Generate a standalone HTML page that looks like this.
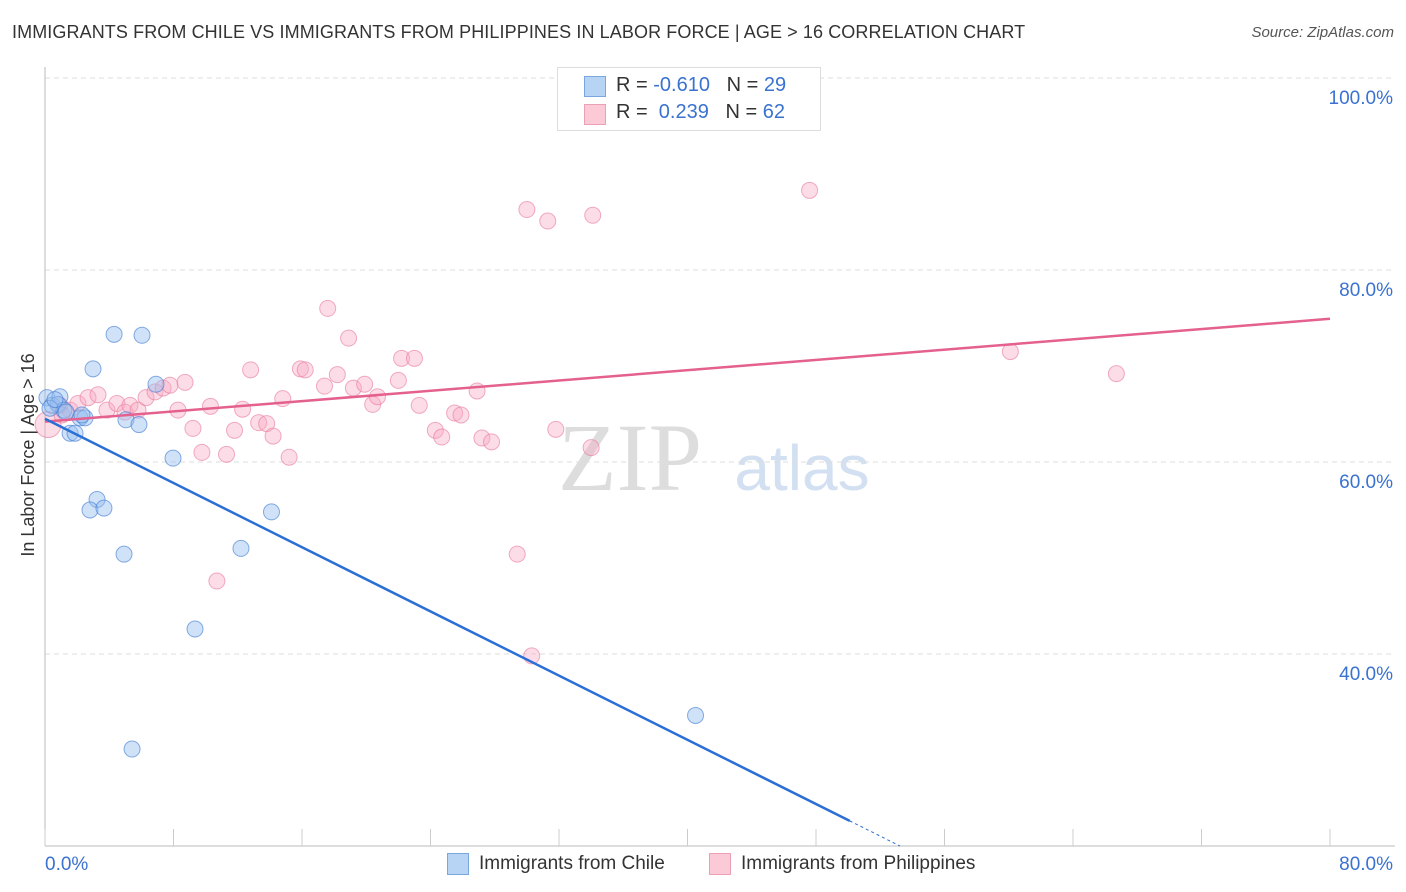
<!DOCTYPE html>
<html><head><meta charset="utf-8"><style>
body{margin:0;background:#fff;font-family:"Liberation Sans",sans-serif;}
#wrap{position:relative;width:1406px;height:892px;overflow:hidden;}
.t{position:absolute;white-space:nowrap;}
</style></head><body>
<div id="wrap">
<div class="t" style="left:12px;top:22px;font-size:18px;color:#333;letter-spacing:0.1px">IMMIGRANTS FROM CHILE VS IMMIGRANTS FROM PHILIPPINES IN LABOR FORCE | AGE &gt; 16 CORRELATION CHART</div>
<div class="t" style="right:12px;top:24px;font-size:15px;color:#555;font-style:italic">Source: ZipAtlas.com</div>
<svg id="svg" width="1406" height="892" style="position:absolute;left:0;top:0">
<text x="630" y="490" font-size="96" fill="#ddd" font-family="Liberation Serif" text-anchor="middle">ZIP</text>
<text x="802" y="490" font-size="64" fill="#d2e0f2" font-family="Liberation Sans" text-anchor="middle">atlas</text>
<text transform="translate(34,455) rotate(-90)" font-size="18" fill="#333" text-anchor="middle">In Labor Force | Age &gt; 16</text>
</svg>
<div style="position:absolute;left:557px;top:67px;width:262px;height:62px;border:1px solid #ddd;background:#fff">
<div style="position:absolute;left:26px;top:8px;width:20px;height:19px;background:#b8d4f5;border:1px solid #7aa7e0"></div>
<div class="t" style="left:58px;top:6px;font-size:20px;color:#333">R = <span style="color:#3a72d0">-0.610</span>&nbsp;&nbsp;&nbsp;N = <span style="color:#3a72d0">29</span></div>
<div style="position:absolute;left:26px;top:36px;width:20px;height:19px;background:#fcc9d6;border:1px solid #eba0b5"></div>
<div class="t" style="left:58px;top:33px;font-size:20px;color:#333">R = &nbsp;<span style="color:#3a72d0">0.239</span>&nbsp;&nbsp;&nbsp;N = <span style="color:#3a72d0">62</span></div>
</div>
<div style="position:absolute;left:447px;top:853px">
<div style="position:absolute;left:0;top:0;width:20px;height:20px;background:#b8d4f5;border:1px solid #7aa7e0"></div>
<div class="t" style="left:32px;top:0;font-size:19px;color:#333">Immigrants from Chile</div></div>
<div style="position:absolute;left:709px;top:853px">
<div style="position:absolute;left:0;top:0;width:20px;height:20px;background:#fcc9d6;border:1px solid #eba0b5"></div>
<div class="t" style="left:32px;top:0;font-size:19px;color:#333">Immigrants from Philippines</div></div>
</div>
<script>
const xTicks=[0,80];
const yTicks=[40,60,80,100];
const chileX=[0.12,0.44,0.93,0.81,1.18,1.56,1.87,2.18,2.49,2.99,3.24,2.80,3.67,4.30,4.92,5.04,5.85,6.04,6.91,7.97,9.34,5.42,12.2,14.1,40.5,0.31,1.31,2.30,0.62];
const chileY=[66.7,65.9,66.8,66.0,65.4,63.0,63.0,64.6,64.6,69.7,56.1,55.0,55.2,73.3,50.4,64.4,63.9,73.2,68.1,60.4,42.6,30.1,51.0,54.8,33.6,65.6,65.2,64.9,66.5];
const philX=[0.19,0.93,1.56,2.05,2.68,3.3,3.86,4.48,4.98,5.29,5.79,6.29,6.85,7.35,7.78,8.28,8.72,9.21,9.77,10.3,10.7,11.3,11.8,12.3,12.8,13.3,13.8,14.2,14.8,15.2,15.9,16.2,17.4,17.6,18.2,18.9,19.2,19.9,20.4,20.7,22.0,22.2,23.0,23.3,24.3,24.7,25.5,25.9,26.9,27.2,27.8,29.4,30.0,30.3,31.3,31.8,34.0,34.1,47.6,60.1,66.7,1.06];
const philY=[63.9,65.9,65.4,66.1,66.7,67.0,65.4,66.1,65.2,65.9,65.4,66.7,67.3,67.7,68.0,65.4,68.3,63.5,61.0,65.8,47.6,60.8,63.3,65.5,69.6,64.1,64.0,62.7,66.6,60.5,69.7,69.6,67.9,76.0,69.1,72.9,67.7,68.1,66.0,66.8,68.5,70.8,70.8,65.9,63.3,62.6,65.1,64.9,67.4,62.5,62.1,50.4,86.3,39.8,85.1,63.4,61.5,85.7,88.3,71.5,69.2,64.9];
const chileTrend=[64.5,-0.836];
const philTrend=[64.2,0.134];
const X0=45,X1=1330,Y0=846,YPX=9.6;
const sx=v=>X0+(v/80)*(X1-X0);
const sy=v=>Y0-(v-20)*YPX;
const svg=document.getElementById('svg');
const NS='http://www.w3.org/2000/svg';
function mk(tag,attrs){const e=document.createElementNS(NS,tag);for(const k in attrs)e.setAttribute(k,attrs[k]);svg.appendChild(e);return e;}
yTicks.forEach(v=>{
 const l=mk('line',{x1:X0,x2:1395,y1:sy(v),y2:sy(v),stroke:'#ddd','stroke-dasharray':'5,4'});
 
 
 const t=mk('text',{x:1393,y:sy(v)+26,'font-size':19,fill:'#3a72d0','text-anchor':'end'});
 t.textContent=v.toFixed(1)+'%';
 
 
});
const ax=mk('line',{x1:X0,x2:X0,y1:67,y2:Y0,stroke:'#bbb'});


const bx=mk('line',{x1:X0,x2:1395,y1:Y0,y2:Y0,stroke:'#bbb'});


for(let i=0;i<=10;i++){const v=i*8;const tk=mk('line',{x1:sx(v),x2:sx(v),y1:829,y2:Y0,stroke:'#ccc'});
 
 }
xTicks.forEach((v,i)=>{const t=mk('text',{x:i?1393:45,y:870,'font-size':19,fill:'#3a72d0','text-anchor':i?'end':'start'});
 t.textContent=v.toFixed(1)+'%';
 
 });
philX.forEach((x,i)=>{const c=mk('circle',{cx:sx(x),cy:sy(philY[i]),r:i===0?13:8,fill:'rgba(248,170,194,0.4)',stroke:'rgba(232,120,155,0.6)','stroke-width':1});
 
 });
chileX.forEach((x,i)=>{const c=mk('circle',{cx:sx(x),cy:sy(chileY[i]),r:8,fill:'rgba(150,190,240,0.45)',stroke:'rgba(60,120,210,0.6)','stroke-width':1});
 
 });
const pl=mk('line',{x1:sx(0),y1:sy(philTrend[0]),x2:sx(80),y2:sy(philTrend[0]+80*philTrend[1]),stroke:'#e4608e','stroke-width':2.5});


const xe=50.1,xz=(20-chileTrend[0])/chileTrend[1];
const cl=mk('line',{x1:sx(0),y1:sy(chileTrend[0]),x2:sx(xe),y2:sy(chileTrend[0]+xe*chileTrend[1]),stroke:'#2a6fd4','stroke-width':2.5});


const cd=mk('line',{x1:sx(xe),y1:sy(chileTrend[0]+xe*chileTrend[1]),x2:sx(xz),y2:sy(20),stroke:'#2a6fd4','stroke-width':1,'stroke-dasharray':'3,3'});


</script>
</body></html>
